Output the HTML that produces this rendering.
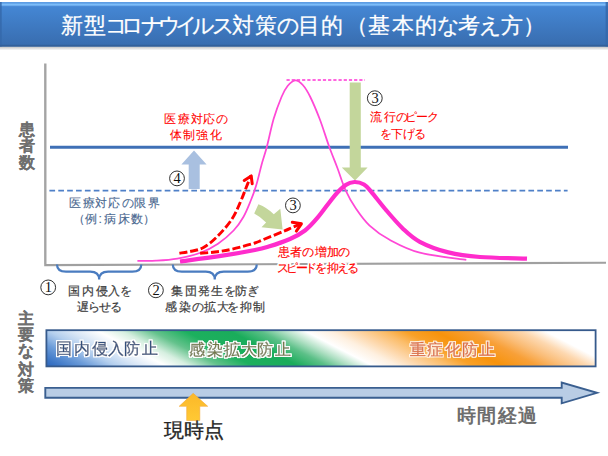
<!DOCTYPE html>
<html lang="ja"><head><meta charset="utf-8">
<style>
html,body{margin:0;padding:0;background:#fff;}
body{width:608px;height:456px;overflow:hidden;position:relative;font-family:"Liberation Sans",sans-serif;}
svg{position:absolute;left:0;top:0;}
svg text{font-family:"Liberation Sans",sans-serif;}
svg text.serif{font-family:"Liberation Serif",serif;}
</style></head><body>
<svg width="608" height="456" viewBox="0 0 608 456">
<defs>
<linearGradient id="tb" x1="0" y1="0" x2="0" y2="1">
<stop offset="0" stop-color="#4a8ad6"/><stop offset="0.12" stop-color="#4486d3"/><stop offset="1" stop-color="#386cae"/>
</linearGradient>
<linearGradient id="hl" x1="0" y1="0" x2="0" y2="1">
<stop offset="0" stop-color="#80c3fd"/><stop offset="0.5" stop-color="#78b8f6"/><stop offset="1" stop-color="#4a8ad6"/>
</linearGradient>
<linearGradient id="sh" x1="0" y1="0" x2="0" y2="1">
<stop offset="0" stop-color="#b4b4b4"/><stop offset="0.4" stop-color="#d6d6d6"/><stop offset="1" stop-color="#ffffff"/>
</linearGradient>
<linearGradient id="bar" gradientUnits="userSpaceOnUse" x1="46" y1="367" x2="175.94" y2="114.14"><stop offset="0.0000" stop-color="#2a64bc"/><stop offset="0.0257" stop-color="#3c76c6"/><stop offset="0.0707" stop-color="#6c9cd9"/><stop offset="0.1158" stop-color="#b4cfee"/><stop offset="0.1511" stop-color="#d8e6f6"/><stop offset="0.1961" stop-color="#ffffff"/><stop offset="0.2347" stop-color="#d6efe0"/><stop offset="0.2830" stop-color="#64c28c"/><stop offset="0.3360" stop-color="#1cb05e"/><stop offset="0.4084" stop-color="#1aac5b"/><stop offset="0.4566" stop-color="#5cc088"/><stop offset="0.4920" stop-color="#b0e0c4"/><stop offset="0.5289" stop-color="#ffffff"/><stop offset="0.5691" stop-color="#fef0e0"/><stop offset="0.6093" stop-color="#fdd6a8"/><stop offset="0.6527" stop-color="#fbbd6a"/><stop offset="0.6897" stop-color="#f9a128"/><stop offset="0.7379" stop-color="#f7930c"/><stop offset="0.7942" stop-color="#f8a038"/><stop offset="0.8344" stop-color="#fabd78"/><stop offset="0.8762" stop-color="#fdd8b0"/><stop offset="0.9148" stop-color="#ffffff"/><stop offset="1.0000" stop-color="#ffffff"/></linearGradient>
<linearGradient id="yel" x1="0" y1="0" x2="0" y2="1">
<stop offset="0" stop-color="#fbb829"/><stop offset="1" stop-color="#ffc934"/>
</linearGradient>
<filter id="glow" x="-20%" y="-40%" width="140%" height="180%">
<feMorphology in="SourceAlpha" operator="dilate" radius="1.1" result="d"/>
<feGaussianBlur in="d" stdDeviation="0.7" result="b"/>
<feFlood flood-color="#ffffff"/>
<feComposite in2="b" operator="in" result="w"/>
<feMerge><feMergeNode in="w"/><feMergeNode in="w"/><feMergeNode in="SourceGraphic"/></feMerge>
</filter>
<filter id="glow3" x="-20%" y="-40%" width="140%" height="180%">
<feMorphology in="SourceAlpha" operator="dilate" radius="0.9" result="d"/>
<feGaussianBlur in="d" stdDeviation="0.5" result="b"/>
<feFlood flood-color="#fff8ee"/>
<feComposite in2="b" operator="in" result="w"/>
<feMerge><feMergeNode in="w"/><feMergeNode in="SourceGraphic"/></feMerge>
</filter>
<filter id="glow2" x="-20%" y="-40%" width="140%" height="180%">
<feMorphology in="SourceAlpha" operator="dilate" radius="1.7" result="d"/>
<feFlood flood-color="#ffffff"/>
<feComposite in2="d" operator="in" result="w"/>
<feMerge><feMergeNode in="w"/><feMergeNode in="SourceGraphic"/></feMerge>
</filter>
</defs>

<!-- title bar -->
<rect x="0" y="46" width="608" height="4.5" fill="url(#sh)"/>
<rect x="0" y="2" width="608" height="44.5" fill="url(#tb)"/>
<rect x="0" y="2" width="608" height="1.6" fill="#5d9de4"/>
<rect x="0" y="3.6" width="608" height="3" fill="url(#hl)"/>
<rect x="0" y="2" width="1.7" height="44.5" fill="#3568aa" opacity="0.85"/>
<rect x="605.6" y="2" width="2.4" height="44.5" fill="#3568aa" opacity="0.85"/>
<rect x="0" y="44.8" width="608" height="1.7" fill="#33609a"/>
<text font-size="21.80" fill="#ffffff" text-anchor="middle" stroke="#ffffff" stroke-width="0.25"><tspan x="71.77" y="32.84">新</tspan><tspan x="95.17" y="32.84">型</tspan><tspan x="116.05" y="32.84">コ</tspan><tspan x="132.37" y="32.84">ロ</tspan><tspan x="152.41" y="32.84">ナ</tspan><tspan x="169.34" y="32.84">ウ</tspan><tspan x="186.54" y="32.84">イ</tspan><tspan x="203.65" y="32.84">ル</tspan><tspan x="223.31" y="32.84">ス</tspan><tspan x="243.38" y="32.84">対</tspan><tspan x="266.36" y="32.84">策</tspan><tspan x="288.33" y="32.84">の</tspan><tspan x="308.95" y="32.84">目</tspan><tspan x="331.77" y="32.84">的</tspan><tspan x="357.15" y="32.84">（</tspan><tspan x="378.62" y="32.84">基</tspan><tspan x="402.84" y="32.84">本</tspan><tspan x="426.07" y="32.84">的</tspan><tspan x="448.90" y="32.84">な</tspan><tspan x="469.32" y="32.84">考</tspan><tspan x="490.84" y="32.84">え</tspan><tspan x="511.86" y="32.84">方</tspan><tspan x="533.95" y="32.84">）</tspan></text>

<!-- axes -->
<line x1="45.3" y1="63.5" x2="45.3" y2="264" stroke="#a4a4a4" stroke-width="2.4"/>
<line x1="44.2" y1="265.1" x2="606" y2="262.7" stroke="#a0a0a0" stroke-width="2.1"/>
<text font-size="16.30" fill="#6f6f6f" text-anchor="middle" font-weight="bold" stroke="#6f6f6f" stroke-width="0.12"><tspan x="27.13" y="134.62">患</tspan><tspan x="26.96" y="150.91">者</tspan><tspan x="26.88" y="168.10">数</tspan></text>

<!-- horizontal lines -->
<line x1="50" y1="147.3" x2="568" y2="147.3" stroke="#3f70b6" stroke-width="3"/>
<line x1="49.4" y1="190.6" x2="567.6" y2="190.6" stroke="#4f80c8" stroke-width="1.9" stroke-dasharray="5.7 3.17"/>
<line x1="286.5" y1="80" x2="365" y2="80" stroke="#ff66e0" stroke-width="2" stroke-dasharray="3.2 2"/>

<!-- green arrows -->
<path d="M349.7,82.4 L360.8,82.4 L360.8,167.6 L367.6,167.6 L355,180.5 L341.8,167.6 L349.7,167.6 Z" fill="#c3d69b"/>
<path d="M258.4,204.2 Q267,207.5 273.8,214.2 L280.3,208.8 L282.6,229.6 L261.5,227.3 L266.1,222.6 Q260.5,216.5 254.2,213.4 Z" fill="#c3d69b"/>

<!-- curves -->
<path d="M137.4,260.8 C140.5,260.8 149.3,261.1 156.0,260.7 C162.7,260.3 170.0,259.9 177.4,258.6 C184.8,257.3 193.7,255.2 200.5,252.7 C207.3,250.2 212.5,247.4 218.0,243.7 C223.5,240.0 229.4,234.9 233.6,230.5 C237.8,226.1 240.5,222.1 243.4,217.0 C246.3,211.9 248.8,205.3 251.0,200.0 C253.2,194.7 254.6,190.8 256.3,185.0 C258.1,179.2 259.8,171.3 261.5,165.0 C263.2,158.7 264.8,154.7 266.8,147.0 C268.8,139.3 271.2,127.3 273.6,119.0 C276.1,110.7 279.2,102.5 281.5,97.0 C283.8,91.5 285.3,88.8 287.6,86.0 C289.9,83.2 292.6,80.5 295.1,80.3 C297.6,80.1 300.3,82.2 302.8,85.0 C305.3,87.8 307.5,91.3 310.3,97.0 C313.1,102.7 316.5,110.7 319.7,119.0 C322.9,127.3 326.3,138.8 329.3,147.0 C332.3,155.2 334.9,161.3 337.6,168.5 C340.3,175.7 342.3,183.2 345.4,189.9 C348.4,196.6 351.9,202.6 355.9,208.5 C359.9,214.4 364.0,220.4 369.6,225.6 C375.2,230.8 381.2,235.3 389.6,239.8 C398.0,244.3 407.0,249.4 419.8,252.7 C432.6,256.0 458.6,258.6 466.3,259.8" fill="none" stroke="#ff48d6" stroke-width="1.75"/>
<path d="M180.0,261.5 C186.6,260.6 206.8,258.1 219.3,256.2 C231.8,254.3 246.7,251.6 254.9,250.0 C263.1,248.4 262.8,248.4 268.7,246.6 C274.6,244.8 283.9,241.7 290.0,239.0 C296.1,236.3 300.3,234.1 305.0,230.5 C309.7,226.9 313.1,223.0 318.0,217.2 C322.9,211.4 329.9,201.2 334.5,195.8 C339.1,190.4 342.4,187.3 345.7,185.0 C349.0,182.7 351.4,182.1 354.5,182.0 C357.6,181.9 361.2,182.9 364.0,184.5 C366.8,186.1 367.7,187.6 371.3,191.8 C374.9,196.0 380.4,203.4 385.6,209.5 C390.8,215.6 397.0,223.0 402.7,228.4 C408.4,233.8 412.2,237.8 419.8,241.8 C427.4,245.8 438.3,249.9 448.3,252.4 C458.3,254.9 466.9,256.0 480.0,257.0 C493.1,258.0 519.2,258.3 527.0,258.6" fill="none" stroke="#ff2ccc" stroke-width="4.2" stroke-linecap="butt"/>

<!-- red dashed arrows -->
<path d="M179.4,253.2 C181.2,252.9 186.0,252.4 190.0,251.5 C194.0,250.6 198.9,250.1 203.5,247.5 C208.1,244.9 213.1,240.8 217.8,236.0 C222.6,231.2 228.2,224.8 232.0,219.0 C235.8,213.2 238.3,206.7 240.6,201.5 C242.9,196.3 244.3,192.3 246.0,188.0 C247.7,183.7 250.2,177.6 251.0,175.5" fill="none" stroke="#ff0000" stroke-width="2.9" stroke-dasharray="8.1 2.8"/>
<path d="M244.2,180.5 L251.2,175.9 L252.2,183.8" fill="none" stroke="#ff0000" stroke-width="3" stroke-linejoin="round" stroke-linecap="round"/>
<path d="M200.1,253.2 C202.6,253.0 209.7,252.7 215.0,252.0 C220.3,251.3 225.3,250.7 232.0,249.2 C238.7,247.7 249.7,244.6 254.9,243.0 C260.1,241.4 258.1,241.7 263.0,239.7 C267.9,237.7 279.7,233.0 284.6,230.9 C289.5,228.8 289.5,228.6 292.5,227.3 C295.5,226.0 300.8,224.0 302.5,223.3" fill="none" stroke="#ff0000" stroke-width="2.9" stroke-dasharray="8.1 2.8"/>
<path d="M292.3,222.2 L301.4,223.85 L296.35,231.1" fill="none" stroke="#ff0000" stroke-width="3" stroke-linejoin="round" stroke-linecap="round"/>

<!-- blue up arrow -->
<path d="M194,150.5 L206.6,164.5 L199.7,164.5 L199.7,189 L188.7,189 L188.7,164.5 L181.4,164.5 Z" fill="#a9c0e0"/>

<!-- circled numbers -->
<circle cx="177" cy="178.4" r="7.4" fill="#fff" stroke="#1a1a1a" stroke-width="0.9"/><text x="177.2" y="182.8" text-anchor="middle" class="serif" font-size="14.5" fill="#111">4</text>
<circle cx="292.9" cy="205.4" r="7.4" fill="#fff" stroke="#1a1a1a" stroke-width="0.9"/><text x="293.09999999999997" y="209.8" text-anchor="middle" class="serif" font-size="14.5" fill="#111">3</text>
<circle cx="374.8" cy="98.2" r="7.4" fill="#fff" stroke="#1a1a1a" stroke-width="0.9"/><text x="375.0" y="102.60000000000001" text-anchor="middle" class="serif" font-size="14.5" fill="#111">3</text>
<circle cx="48.2" cy="287.4" r="7.4" fill="#fff" stroke="#1a1a1a" stroke-width="0.9"/><text x="48.400000000000006" y="291.79999999999995" text-anchor="middle" class="serif" font-size="14.5" fill="#111">1</text>
<circle cx="155.9" cy="290.3" r="7.4" fill="#fff" stroke="#1a1a1a" stroke-width="0.9"/><text x="156.1" y="294.7" text-anchor="middle" class="serif" font-size="14.5" fill="#111">2</text>

<!-- red labels -->
<text font-size="12.40" fill="#ff0000" text-anchor="middle" stroke="#ff0000" stroke-width="0.08"><tspan x="170.23" y="122.55">医</tspan><tspan x="183.95" y="122.55">療</tspan><tspan x="196.54" y="122.55">対</tspan><tspan x="209.00" y="122.55">応</tspan><tspan x="221.84" y="122.55">の</tspan></text>
<text font-size="12.40" fill="#ff0000" text-anchor="middle" stroke="#ff0000" stroke-width="0.08"><tspan x="176.19" y="139.20">体</tspan><tspan x="189.12" y="139.20">制</tspan><tspan x="202.10" y="139.20">強</tspan><tspan x="215.70" y="139.20">化</tspan></text>
<text font-size="12.40" fill="#ff0000" text-anchor="middle" stroke="#ff0000" stroke-width="0.08"><tspan x="376.40" y="121.00">流</tspan><tspan x="389.72" y="121.00">行</tspan><tspan x="401.54" y="121.00">の</tspan><tspan x="410.86" y="121.00">ピ</tspan><tspan x="422.15" y="121.00">ー</tspan><tspan x="432.90" y="121.00">ク</tspan></text>
<text font-size="12.40" fill="#ff0000" text-anchor="middle" stroke="#ff0000" stroke-width="0.08"><tspan x="385.86" y="138.10">を</tspan><tspan x="397.12" y="138.10">下</tspan><tspan x="409.02" y="138.10">げ</tspan><tspan x="420.34" y="138.10">る</tspan></text>
<text font-size="12.20" fill="#ffffff" text-anchor="middle" stroke="#ffffff" stroke-width="3.4" stroke-linejoin="round"><tspan x="283.88" y="256.33">患</tspan><tspan x="296.31" y="256.33">者</tspan><tspan x="308.08" y="256.33">の</tspan><tspan x="321.12" y="256.33">増</tspan><tspan x="332.99" y="256.33">加</tspan><tspan x="343.98" y="256.33">の</tspan></text>
<text font-size="12.20" fill="#ffffff" text-anchor="middle" stroke="#ffffff" stroke-width="3.4" stroke-linejoin="round"><tspan x="283.28" y="271.83">ス</tspan><tspan x="291.77" y="271.83">ピ</tspan><tspan x="302.25" y="271.83">ー</tspan><tspan x="310.62" y="271.83">ド</tspan><tspan x="321.31" y="271.83">を</tspan><tspan x="333.08" y="271.83">抑</tspan><tspan x="342.99" y="271.83">え</tspan><tspan x="353.03" y="271.83">る</tspan></text>
<text font-size="12.20" fill="#ff0000" text-anchor="middle" stroke="#ff0000" stroke-width="0.15"><tspan x="283.88" y="256.33">患</tspan><tspan x="296.31" y="256.33">者</tspan><tspan x="308.08" y="256.33">の</tspan><tspan x="321.12" y="256.33">増</tspan><tspan x="332.99" y="256.33">加</tspan><tspan x="343.98" y="256.33">の</tspan></text>
<text font-size="12.20" fill="#ff0000" text-anchor="middle" stroke="#ff0000" stroke-width="0.15"><tspan x="283.28" y="271.83">ス</tspan><tspan x="291.77" y="271.83">ピ</tspan><tspan x="302.25" y="271.83">ー</tspan><tspan x="310.62" y="271.83">ド</tspan><tspan x="321.31" y="271.83">を</tspan><tspan x="333.08" y="271.83">抑</tspan><tspan x="342.99" y="271.83">え</tspan><tspan x="353.03" y="271.83">る</tspan></text>

<!-- limit label -->
<text font-size="12.30" fill="#4a6890" text-anchor="middle" stroke="#4a6890" stroke-width="0.12"><tspan x="75.33" y="206.87">医</tspan><tspan x="88.70" y="206.87">療</tspan><tspan x="101.23" y="206.87">対</tspan><tspan x="114.40" y="206.87">応</tspan><tspan x="127.88" y="206.87">の</tspan><tspan x="140.43" y="206.87">限</tspan><tspan x="153.53" y="206.87">界</tspan></text>
<text font-size="12.30" fill="#4a6890" text-anchor="middle" stroke="#4a6890" stroke-width="0.12"><tspan x="78.58" y="222.57">（</tspan><tspan x="91.19" y="222.57">例</tspan><tspan x="100.15" y="222.57">:</tspan><tspan x="110.40" y="222.57">病</tspan><tspan x="124.31" y="222.57">床</tspan><tspan x="137.22" y="222.57">数</tspan><tspan x="148.77" y="222.57">）</tspan></text>

<!-- braces -->
<path d="M57,264.5 Q57,271.6 66,271.6 L90.15,271.6 Q99.15,271.6 99.15,279.5 Q99.15,271.6 108.15,271.6 L132.3,271.6 Q141.3,271.6 141.3,264.5" fill="none" stroke="#4a7cc0" stroke-width="2.2"/>
<path d="M172.8,264.5 Q172.8,271.6 181.8,271.6 L205.75,271.6 Q214.75,271.6 214.75,279.5 Q214.75,271.6 223.75,271.6 L247.7,271.6 Q256.7,271.6 256.7,264.5" fill="none" stroke="#4a7cc0" stroke-width="2.2"/>

<!-- bottom labels -->
<text font-size="12.20" fill="#3c3c3c" text-anchor="middle" stroke="#3c3c3c" stroke-width="0.2"><tspan x="74.12" y="294.93">国</tspan><tspan x="87.77" y="294.93">内</tspan><tspan x="101.77" y="294.93">侵</tspan><tspan x="114.37" y="294.93">入</tspan><tspan x="126.06" y="294.93">を</tspan></text>
<text font-size="12.20" fill="#3c3c3c" text-anchor="middle" stroke="#3c3c3c" stroke-width="0.2"><tspan x="83.46" y="311.13">遅</tspan><tspan x="94.31" y="311.13">ら</tspan><tspan x="105.39" y="311.13">せ</tspan><tspan x="116.13" y="311.13">る</tspan></text>
<text font-size="12.20" fill="#3c3c3c" text-anchor="middle" stroke="#3c3c3c" stroke-width="0.2"><tspan x="177.37" y="294.83">集</tspan><tspan x="190.83" y="294.83">団</tspan><tspan x="204.03" y="294.83">発</tspan><tspan x="217.43" y="294.83">生</tspan><tspan x="229.71" y="294.83">を</tspan><tspan x="241.03" y="294.83">防</tspan><tspan x="252.94" y="294.83">ぎ</tspan></text>
<text font-size="12.20" fill="#3c3c3c" text-anchor="middle" stroke="#3c3c3c" stroke-width="0.2"><tspan x="171.18" y="311.13">感</tspan><tspan x="185.14" y="311.13">染</tspan><tspan x="197.63" y="311.13">の</tspan><tspan x="209.72" y="311.13">拡</tspan><tspan x="222.61" y="311.13">大</tspan><tspan x="233.21" y="311.13">を</tspan><tspan x="245.68" y="311.13">抑</tspan><tspan x="259.02" y="311.13">制</tspan></text>

<!-- 主要な対策 -->
<text font-size="16.30" fill="#6f6f6f" text-anchor="middle" font-weight="bold" stroke="#6f6f6f" stroke-width="0.12"><tspan x="26.06" y="324.12">主</tspan><tspan x="26.14" y="340.03">要</tspan><tspan x="26.39" y="356.06">な</tspan><tspan x="26.31" y="375.31">対</tspan><tspan x="26.06" y="391.02">策</tspan></text>

<!-- strategy bar -->
<rect x="46.4" y="330.2" width="549.2" height="36.2" fill="url(#bar)" stroke="#365a8c" stroke-width="1.8"/>
<g filter="url(#glow)">
<text font-size="16.00" fill="#34507c" text-anchor="middle" stroke="#34507c" stroke-width="0.45"><tspan x="64.21" y="354.08">国</tspan><tspan x="81.76" y="354.08">内</tspan><tspan x="99.73" y="354.08">侵</tspan><tspan x="115.81" y="354.08">入</tspan><tspan x="132.19" y="354.08">防</tspan><tspan x="149.56" y="354.08">止</tspan></text>
<text font-size="16.00" fill="#737a4a" text-anchor="middle" stroke="#737a4a" stroke-width="0.4"><tspan x="196.89" y="354.78">感</tspan><tspan x="214.92" y="354.78">染</tspan><tspan x="231.91" y="354.78">拡</tspan><tspan x="248.73" y="354.78">大</tspan><tspan x="265.44" y="354.78">防</tspan><tspan x="282.56" y="354.78">止</tspan></text>
</g><g filter="url(#glow3)"><text font-size="16.00" fill="#dc7040" text-anchor="middle" stroke="#dc7040" stroke-width="0.45"><tspan x="417.76" y="354.88">重</tspan><tspan x="435.41" y="354.88">症</tspan><tspan x="453.15" y="354.88">化</tspan><tspan x="469.74" y="354.88">防</tspan><tspan x="486.56" y="354.88">止</tspan></text>
</g>

<!-- timeline arrow -->
<path d="M45.3,387.9 L561.7,387.9 L561.7,382.5 L597,392.8 L561.7,403.3 L561.7,397.7 L45.3,397.7 Z" fill="#b9cde5" stroke="#3a5f90" stroke-width="1.9" stroke-linejoin="miter"/>

<!-- yellow arrow -->
<path d="M193.2,393.3 L207.7,406.3 L199.8,406.3 L199.8,420.5 L186.7,420.5 L186.7,406.3 L179.2,406.3 Z" fill="url(#yel)" stroke="#f4a838" stroke-width="0.6"/>

<text font-size="19.80" fill="#262626" text-anchor="middle" stroke="#262626" stroke-width="0.35"><tspan x="174.35" y="437.33">現</tspan><tspan x="194.25" y="437.33">時</tspan><tspan x="214.15" y="437.33">点</tspan></text>
<text font-size="19.30" fill="#6e6e6e" text-anchor="middle" font-weight="bold"><tspan x="466.46" y="422.25">時</tspan><tspan x="486.29" y="422.25">間</tspan><tspan x="507.49" y="422.25">経</tspan><tspan x="527.30" y="422.25">過</tspan></text>
</svg>
</body></html>
